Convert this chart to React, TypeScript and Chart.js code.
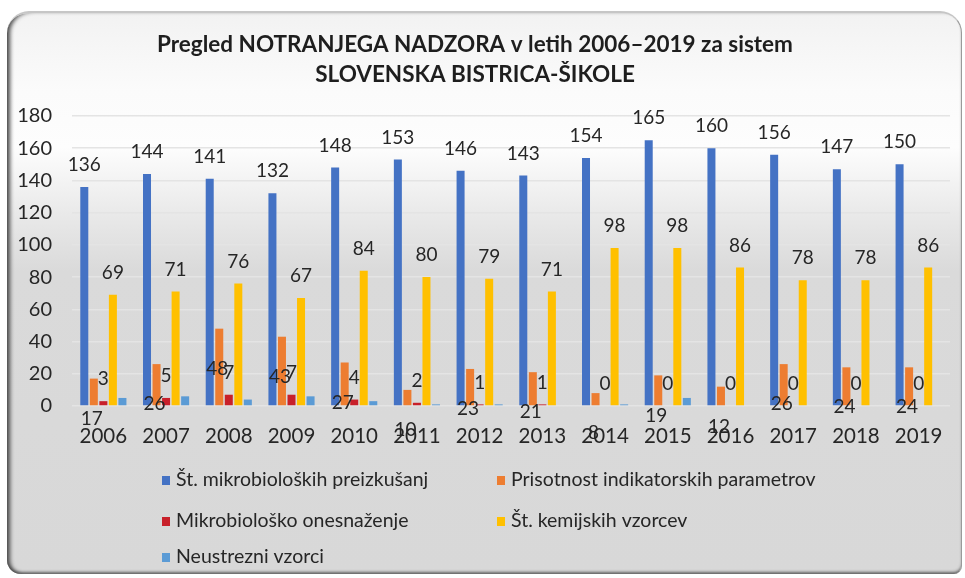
import { useEffect, useRef } from "react";
import { Chart, registerables } from "chart.js";

Chart.register(...registerables);

const years = ["2006", "2007", "2008", "2009", "2010", "2011", "2012", "2013", "2014", "2015", "2016", "2017", "2018", "2019"];
const mikroPreizkusanj = [136, 144, 141, 132, 148, 153, 146, 143, 154, 165, 160, 156, 147, 150];
const prisotnostIndikatorjev = [17, 26, 48, 43, 27, 10, 23, 21, 8, 19, 12, 26, 24, 24];
const mikroOnesnazenje = [3, 5, 7, 7, 4, 2, 1, 1, 0, 0, 0, 0, 0, 0];
const kemijskiVzorci = [69, 71, 76, 67, 84, 80, 79, 71, 98, 98, 86, 78, 78, 86];
const neustrezniVzorci = [5, 6, 4, 6, 3, 1, 1, 0, 1, 5, 0, 0, 0, 0];

const seriesNames = [
  "Št. mikrobioloških preizkušanj",
  "Prisotnost indikatorskih parametrov",
  "Mikrobiološko onesnaženje",
  "Št. kemijskih vzorcev",
  "Neustrezni vzorci",
];
const titleLines = ["Pregled NOTRANJEGA NADZORA v letih 2006\u20132019 za sistem", "SLOVENSKA BISTRICA-ŠIKOLE"];
const yMin = 0;
const yMax = 180;
const yStep = 20;

const FONT = "Lato, 'Open Sans', sans-serif";
const TEXT = "#262626";

const valueLabels = {
  id: "valueLabels",
  afterDatasetsDraw(chart: any) {
    const ctx = chart.ctx;
    ctx.save();
    ctx.font = `19px ${FONT}`;
    ctx.fillStyle = TEXT;
    ctx.textAlign = "center";
    ctx.textBaseline = "middle";
    chart.data.datasets.forEach((ds: any, di: number) => {
      if (!ds.showValue) return;
      const meta = chart.getDatasetMeta(di);
      meta.data.forEach((bar: any, i: number) => {
        const v = ds.data[i];
        const x = bar.x + (ds.labelDx || 0);
        const y = ds.labelBelowTop ? bar.y + ds.labelBelowTop : bar.y - 22;
        ctx.fillText(String(v), x, y);
      });
    });
    ctx.restore();
  },
};

const customLegend = {
  id: "customLegend",
  afterDraw(chart: any) {
    const ctx = chart.ctx;
    const cols = [162, 497];
    const rows = [480, 521, 557];
    ctx.save();
    ctx.font = `19.5px ${FONT}`;
    ctx.textBaseline = "middle";
    ctx.textAlign = "left";
    chart.data.datasets.forEach((ds: any, i: number) => {
      const x = cols[i % 2];
      const y = rows[Math.floor(i / 2)];
      ctx.fillStyle = ds.backgroundColor;
      ctx.fillRect(x, y - 4, 8, 9);
      ctx.fillStyle = TEXT;
      ctx.fillText(ds.label, x + 14, y);
    });
    ctx.restore();
  },
};

export default function App() {
  const ref = useRef<HTMLCanvasElement | null>(null);

  useEffect(() => {
    document.body.style.margin = "0";
    const canvas = ref.current;
    if (!canvas) return;
    const chart = new Chart(canvas, {
      type: "bar",
      data: {
        labels: years,
        datasets: [
          { label: seriesNames[0], data: mikroPreizkusanj, backgroundColor: "#4472C4", showValue: true },
          { label: seriesNames[1], data: prisotnostIndikatorjev, backgroundColor: "#ED7D31", showValue: true, labelBelowTop: 40, labelDx: -2 },
          { label: seriesNames[2], data: mikroOnesnazenje, backgroundColor: "#C8202A", showValue: true },
          { label: seriesNames[3], data: kemijskiVzorci, backgroundColor: "#FFC000", showValue: true },
          { label: seriesNames[4], data: neustrezniVzorci, backgroundColor: "#5B9BD5", showValue: false },
        ] as any,
      },
      options: {
        animation: false,
        responsive: false,
        maintainAspectRatio: false,
        layout: { padding: { left: 0, right: 15, top: 0, bottom: 0 } },
        datasets: { bar: { categoryPercentage: 0.76, barPercentage: 0.84 } },
        scales: {
          x: {
            afterFit(scale: any) {
              scale.height = 172;
            },
            grid: { display: false },
            border: { display: false },
            ticks: { font: { family: FONT, size: 20.5, lineHeight: 1.2 }, color: TEXT, padding: 10, maxRotation: 0, autoSkip: false },
          },
          y: {
            min: yMin,
            max: yMax,
            afterFit(scale: any) {
              scale.width = 72;
            },
            grid: { color: "#e4e4e4", lineWidth: 1.5, drawTicks: false },
            border: { display: false },
            ticks: { stepSize: yStep, font: { family: FONT, size: 20 }, color: TEXT, padding: 20 },
          },
        },
        plugins: {
          legend: { display: false },
          tooltip: { enabled: false },
          title: {
            display: true,
            text: titleLines,
            color: "#1e1e1e",
            font: { family: FONT, size: 22.5, weight: "bold", lineHeight: 1.333 },
            padding: { top: 30, bottom: 26 },
          },
        },
      } as any,
      plugins: [valueLabels, customLegend],
    });
    return () => chart.destroy();
  }, []);

  return (
    <div style={{ position: "fixed", left: 0, top: 0, width: 965, height: 578, background: "#fff", overflow: "hidden" }}>
      <div
        style={{
          position: "absolute",
          left: 7,
          top: 11,
          width: 955,
          height: 563,
          borderRadius: "22px 22px 8px 14px",
          borderTop: "2px solid #c6c6c6",
          borderRight: "1px solid #9a9a9a",
          boxSizing: "border-box",
          background: "linear-gradient(180deg, #f2f2f2 0%, #fbfbfb 14%, #fdfdfd 24%, #e9e9e9 36%, #dadada 46%, #d8d8d8 100%)",
          boxShadow: "inset 5px 0 4px -2px #4a4a4a, inset 0 -3px 3px -1px #6a6a6a",
        }}
      />
      <canvas ref={ref} width={965} height={578} style={{ position: "absolute", left: 0, top: 0, width: 965, height: 578 }} />
    </div>
  );
}
